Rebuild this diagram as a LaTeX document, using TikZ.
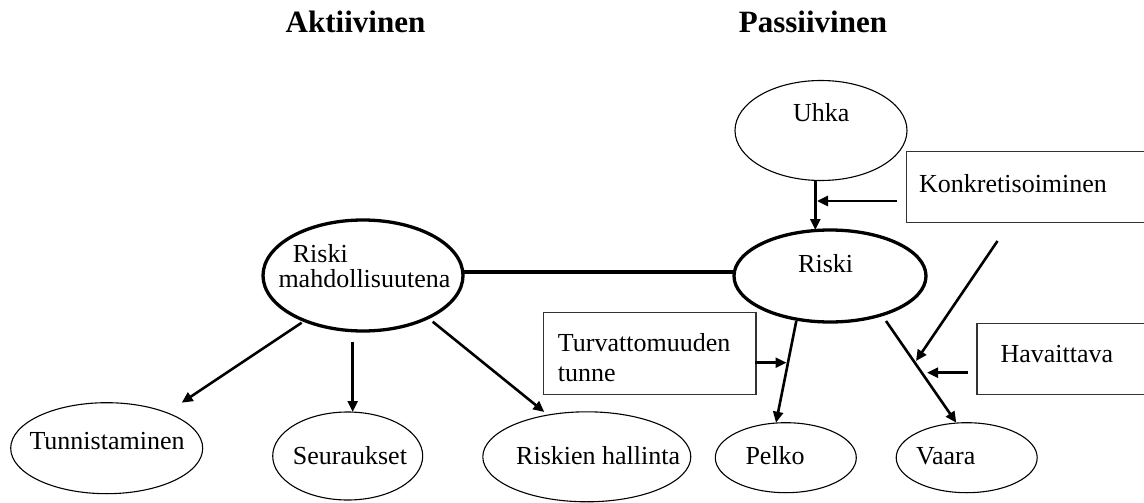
\documentclass[tikz,border=0pt]{standalone}
\usepackage{fontspec}
\setmainfont{Liberation Serif}
\usetikzlibrary{shapes.geometric,arrows.meta}
\begin{document}
\begin{tikzpicture}[x=1pt,y=-1pt,
 lbl/.style={anchor=base west,inner sep=0pt,font=\fontsize{26}{30}\selectfont},
 ttl/.style={anchor=base,inner sep=0pt,font=\fontsize{31}{36}\selectfont\bfseries},
 thinell/.style={draw,ellipse,line width=1.1pt,inner sep=0pt},
 thickell/.style={draw,ellipse,line width=3.3pt,inner sep=0pt},
 tbox/.style={draw=black!80,line width=1.2pt,inner sep=0pt,anchor=north west},
 conn/.style={line width=2.6pt,-{Triangle[length=11pt,width=10pt]}},
 plainconn/.style={line width=3.3pt},
]
\path[use as bounding box] (0,0) rectangle (1144,503);

% titles
\node[ttl] (aktiivinen) at (355.5,33) {Aktiivinen};
\node[ttl] (passiivinen) at (813,33) {Passiivinen};

% ellipses
\node[thinell,minimum width=172pt,minimum height=100pt] (uhka) at (821,130.5) {};
\node[lbl] (uhkat) at (793,121.7) {Uhka};

\node[thickell,minimum width=192pt,minimum height=92pt] (riski) at (830,276) {};
\node[lbl] (riskit) at (798,272.7) {Riski};

\node[thickell,minimum width=200pt,minimum height=111pt] (mahd) at (363,275.5) {};
\node[lbl] (mahdt1) at (292.7,262) {Riski};
\node[lbl] (mahdt2) at (278.3,287.7) {mahdollisuutena};

\node[thinell,minimum width=192pt,minimum height=91pt] (tunn) at (106.7,448.2) {};
\node[lbl] (tunnt) at (29.3,449.3) {Tunnistaminen};

\node[thinell,minimum width=150pt,minimum height=88pt] (seur) at (347.7,456) {};
\node[lbl] (seurt) at (292.7,464.3) {Seuraukset};

\node[thinell,minimum width=208pt,minimum height=90pt] (hall) at (586.8,456.8) {};
\node[lbl] (hallt) at (516,464.3) {Riskien hallinta};

\node[thinell,minimum width=141pt,minimum height=70pt] (pelko) at (785.8,457.7) {};
\node[lbl] (pelkot) at (745.3,464.3) {Pelko};

\node[thinell,minimum width=141pt,minimum height=70pt] (vaara) at (966.7,457.7) {};
\node[lbl] (vaarat) at (916,464.3) {Vaara};

% boxes
\node[tbox,minimum width=254pt,minimum height=71pt] (konk) at (906,150.7) {};
\node[lbl] (konkt) at (919,192.3) {Konkretisoiminen};

\node[tbox,minimum width=212.6pt,minimum height=81.7pt] (turv) at (542.7,312) {};
\node[lbl] (turvt1) at (557.7,351.7) {Turvattomuuden};
\node[lbl] (turvt2) at (557.7,381) {tunne};

\node[tbox,minimum width=200pt,minimum height=71pt] (hav) at (976.3,322.7) {};
\node[lbl] (havt) at (1000.3,362) {Havaittava};

% connector end points
\coordinate (uhkaS) at (815.3,180.7);
\coordinate (riskiN) at (815.3,230);
\coordinate (konkA) at (897,201);
\coordinate (konkB) at (817,201);
\coordinate (mahdE) at (463,272);
\coordinate (riskiW) at (734,272);
\coordinate (m1) at (301.7,322.7);
\coordinate (tunnN) at (181.7,402.7);
\coordinate (m2) at (352.7,341.7);
\coordinate (seurN) at (352.7,412);
\coordinate (m3) at (432.7,321.7);
\coordinate (hallN) at (544.3,412);
\coordinate (turvE) at (755.3,362.7);
\coordinate (turvB) at (786.5,362.7);
\coordinate (r1) at (796.3,321);
\coordinate (pelkoN) at (776,422.7);
\coordinate (r2) at (886,321);
\coordinate (vaaraN) at (956.3,422.7);
\coordinate (diagA) at (997.5,241);
\coordinate (diagB) at (916,361);
\coordinate (havA) at (968,372.7);
\coordinate (havB) at (927,372.7);

% connectors
\draw[conn] (uhkaS) -- (riskiN);
\draw[conn] (konkA) -- (konkB);
\draw[plainconn] (mahdE) -- (riskiW);
\draw[conn] (m1) -- (tunnN);
\draw[conn] (m2) -- (seurN);
\draw[conn] (m3) -- (hallN);
\draw[conn] (turvE) -- (turvB);
\draw[conn] (r1) -- (pelkoN);
\draw[conn] (r2) -- (vaaraN);
\draw[conn] (diagA) -- (diagB);
\draw[conn] (havA) -- (havB);
\end{tikzpicture}
\end{document}
